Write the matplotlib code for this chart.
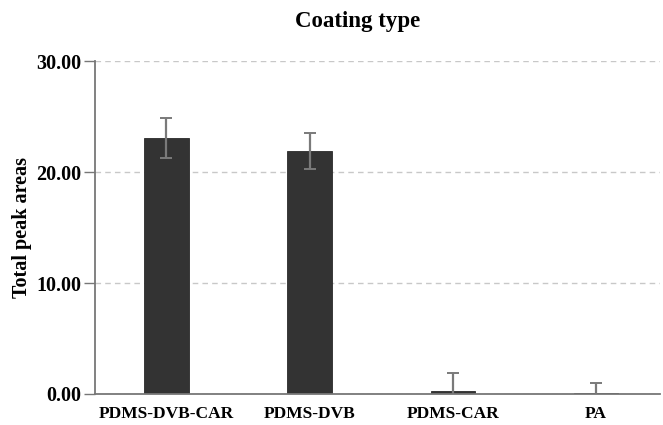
import matplotlib.pyplot as plt
import numpy as np

coatings = ['PDMS-DVB-CAR', 'PDMS-DVB', 'PDMS-CAR', 'PA']
peak_areas = [23.1, 21.9, 0.3, 0.12]
peak_err = [1.8, 1.6, 1.6, 0.9]

plt.rcParams['font.family'] = ['Liberation Serif', 'DejaVu Serif']
plt.rcParams['font.weight'] = 'bold'

fig = plt.figure(figsize=(6.63, 4.25), dpi=100)
ax = fig.add_axes([0.143, 0.073, 0.853, 0.783])

x = np.arange(len(coatings))
ax.bar(x, peak_areas, width=0.31, color='#333333', edgecolor='#2a2a2a',
       linewidth=0.6, zorder=3)
ax.errorbar(x, peak_areas, yerr=peak_err, fmt='none', ecolor='#7a7a7a',
            elinewidth=1.6, capsize=4, capthick=1.4, zorder=4)

ax.set_ylim(0, 30)
ax.set_xlim(-0.5, 3.45)
ax.set_yticks([0, 10, 20, 30])
ax.set_yticklabels(['%.2f' % v for v in [0, 10, 20, 30]], fontsize=14.5, fontweight='bold')
ax.set_xticks(x)
ax.set_xticklabels(coatings, fontsize=12.5, fontweight='bold')
ax.tick_params(axis='x', length=0, pad=9)
ax.tick_params(axis='y', length=8, width=1, color='#777777', pad=2)

ax.yaxis.grid(True, linestyle=(0, (4, 3)), color='#c8c8c8', linewidth=1, zorder=0)
for s in ['top', 'right']:
    ax.spines[s].set_visible(False)
for s in ['left', 'bottom']:
    ax.spines[s].set_color('#777777')
    ax.spines[s].set_linewidth(1.3)
ax.spines['bottom'].set_zorder(5)

ax.set_ylabel('Total peak areas', fontsize=14.5, fontweight='bold', labelpad=3)
fig.text(0.539, 0.975, 'Coating type', fontsize=16.5, fontweight='bold',
         ha='center', va='top')

fig.savefig('out.png', dpi=100)
